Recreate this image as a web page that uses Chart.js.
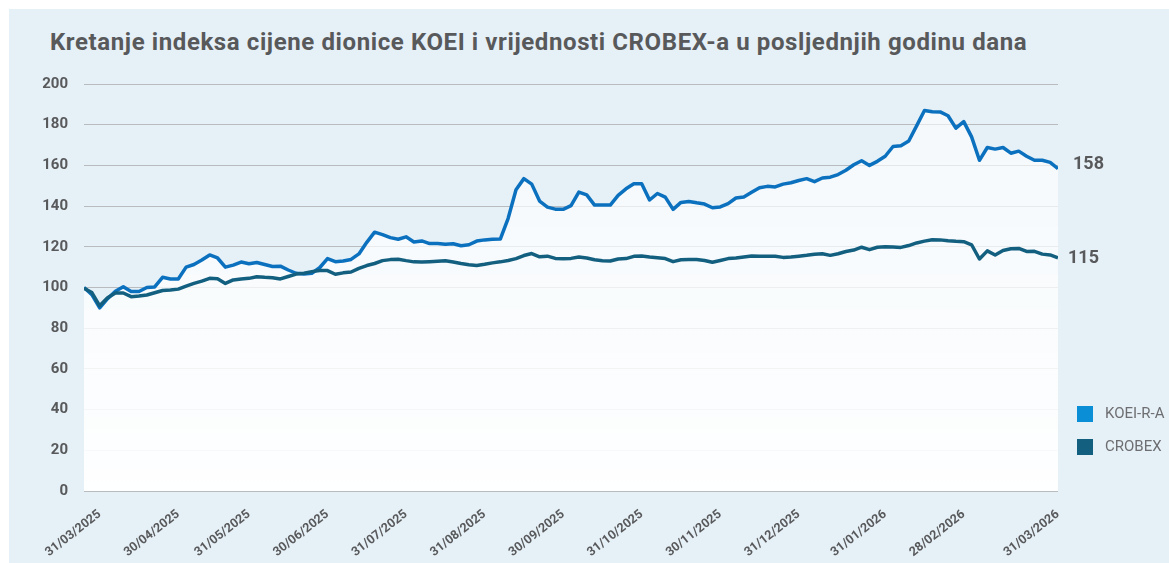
<!DOCTYPE html>
<html>
<head>
<meta charset="utf-8">
<script src="https://cdn.jsdelivr.net/npm/chart.js@4.4.1/dist/chart.umd.min.js"></script>
<style>
    body { margin: 0; background: #ffffff; }
    #panel {
        position: absolute; left: 9px; top: 9px; width: 1160px; height: 554px;
        background: #e6f0f7;
    }
    #title {
        position: absolute; left: 50px; top: 28px; margin: 0;
        font-family: Roboto, sans-serif; font-weight: 700; font-size: 24px;
        letter-spacing: 0.6px; color: #58595b; white-space: nowrap;
    }
    #chart { position: absolute; left: 0; top: 0; }
</style>
</head>
<body>
<div id="panel"></div>
<h1 id="title">Kretanje indeksa cijene dionice KOEI i vrijednosti CROBEX-a u posljednjih godinu dana</h1>
<canvas id="chart" width="1169" height="563"></canvas>
<script>
// Series names
const seriesNames = ['KOEI-R-A', 'CROBEX'];

// Index values, sampled roughly every 3 days from late 03/2025 to 31/03/2026
const koei = [
    100, 96.5, 90, 94.5, 98.2, 100.4, 98, 98, 100, 100.3,
    105, 104.2, 104.2, 110, 111.3, 113.5, 116, 114.5, 110, 111,
    112.5, 111.7, 112.3, 111.3, 110.3, 110.5, 108.6, 107, 106.6, 107,
    109.7, 114.2, 112.7, 113, 113.8, 116.5, 122.2, 127.2, 126, 124.5,
    123.7, 124.9, 122.4, 122.9, 121.6, 121.6, 121.2, 121.5, 120.5, 121,
    122.8, 123.4, 123.7, 123.8, 134, 148, 153.5, 150.8, 142.5, 139.5,
    138.5, 138.4, 140.2, 146.9, 145.5, 140.5, 140.5, 140.5, 145.3, 148.5,
    151, 151, 143, 146.2, 144.4, 138.4, 141.8, 142.3, 141.6, 141,
    139.2, 139.6, 141.2, 144, 144.5, 146.8, 149, 149.7, 149.4, 150.8,
    151.5, 152.6, 153.5, 152, 153.8, 154.2, 155.5, 157.6, 160.3, 162.3,
    160, 162, 164.5, 169.3, 169.7, 172, 179.4, 187, 186.4, 186.3,
    184.4, 178.3, 181.5, 174, 162.5, 168.8, 168, 168.8, 166, 167,
    164.5, 162.5, 162.5, 161.5, 158.4
];
const crobex = [
    99.6, 97.5, 91, 95, 97.3, 97.3, 95.5, 95.8, 96.3, 97.4,
    98.5, 98.8, 99.2, 100.7, 102, 103.1, 104.5, 104.3, 102, 103.7,
    104.2, 104.5, 105.3, 105, 104.8, 104.2, 105.4, 106.6, 107, 107.8,
    108.4, 108.3, 106.5, 107.2, 107.6, 109.4, 110.8, 111.8, 113.2, 113.7,
    113.9, 113.2, 112.6, 112.5, 112.7, 112.9, 113.1, 112.5, 111.8, 111.2,
    110.8, 111.4, 112.1, 112.6, 113.3, 114.2, 115.7, 116.7, 115.1, 115.4,
    114.3, 114.1, 114.3, 115, 114.5, 113.6, 113.2, 113, 114, 114.2,
    115.3, 115.5, 115, 114.6, 114.2, 112.7, 113.6, 113.8, 113.8, 113.3,
    112.4, 113.3, 114.2, 114.5, 115, 115.5, 115.3, 115.3, 115.4, 114.8,
    115, 115.4, 115.8, 116.3, 116.6, 115.8, 116.6, 117.7, 118.4, 119.8,
    118.6, 119.8, 120, 119.9, 119.7, 120.6, 121.9, 122.8, 123.5, 123.4,
    123, 122.7, 122.5, 121, 114, 118, 116, 118.2, 119, 119.2,
    117.7, 117.8, 116.4, 116, 114.6
];

// Month-end tick labels and the sample each one falls on
const tickLabels = [
    '31/03/2025', '30/04/2025', '31/05/2025', '30/06/2025', '31/07/2025', '31/08/2025', '30/09/2025',
    '31/10/2025', '30/11/2025', '31/12/2025', '31/01/2026', '28/02/2026', '31/03/2026'
];
const tickIndex = [2, 12, 21, 31, 41, 51, 61, 71, 81, 91, 102, 112, 124];

const yTicks = { min: 0, max: 200, step: 20 };

// Colors
const koeiLine = '#0b71bf';
const koeiLegend = '#0a8fd6';
const crobexLine = '#135f80';
const textGray = '#58595b';

function fillGradient(context) {
    const chart = context.chart;
    const area = chart.chartArea;
    if (!area) return 'rgba(255,255,255,0.7)';
    const g = chart.ctx.createLinearGradient(0, area.top, 0, area.bottom);
    g.addColorStop(0, 'rgba(255,255,255,0.55)');
    g.addColorStop(1, 'rgba(255,255,255,0.95)');
    return g;
}

// End value labels + legend drawn on the canvas
const extrasPlugin = {
    id: 'extras',
    afterDatasetsDraw(chart) {
        const ctx = chart.ctx;
        ctx.save();
        ctx.fillStyle = textGray;
        ctx.font = '700 18px Roboto, sans-serif';
        ctx.textBaseline = 'middle';
        ctx.textAlign = 'left';
        const dx = [15, 10];
        const dy = [-4, 1];
        chart.data.datasets.forEach((ds, i) => {
            const meta = chart.getDatasetMeta(i);
            const last = meta.data[meta.data.length - 1];
            ctx.fillText(Math.round(ds.data[ds.data.length - 1]), last.x + dx[i], last.y + dy[i]);
        });

        // legend
        const lx = 1077, ly = 406;
        const swatches = [koeiLegend, crobexLine];
        ctx.font = '400 15px Roboto, sans-serif';
        seriesNames.forEach((name, i) => {
            const y = ly + i * 33;
            ctx.fillStyle = swatches[i];
            ctx.fillRect(lx, y, 16, 16);
            ctx.fillStyle = '#6d6e71';
            ctx.fillText(name, lx + 28, y + 8.5);
        });
        ctx.restore();
    }
};

const ctx = document.getElementById('chart').getContext('2d');
const chart = new Chart(ctx, {
    type: 'line',
    data: {
        labels: koei.map((v, i) => i),
        datasets: [
            {
                label: seriesNames[0],
                data: koei,
                borderColor: koeiLine,
                borderWidth: 3.5,
                backgroundColor: fillGradient,
                fill: 'origin',
                pointRadius: 0,
                tension: 0,
                borderJoinStyle: 'round',
                order: 2
            },
            {
                label: seriesNames[1],
                data: crobex,
                borderColor: crobexLine,
                borderWidth: 3.5,
                fill: false,
                pointRadius: 0,
                tension: 0,
                borderJoinStyle: 'round',
                order: 1
            }
        ]
    },
    options: {
        responsive: false,
        animation: false,
        layout: { padding: { left: 0, right: 111, top: 84, bottom: 0 } },
        plugins: {
            legend: { display: false },
            tooltip: { enabled: false },
            filler: { drawTime: 'beforeDatasetsDraw' }
        },
        scales: {
            x: {
                type: 'linear',
                min: 0,
                max: koei.length - 1,
                grid: { display: false },
                border: { display: false },
                afterBuildTicks: (scale) => {
                    scale.ticks = tickIndex.map(v => ({ value: v }));
                },
                afterFit: (scale) => { scale.height = 72; },
                ticks: {
                    autoSkip: false,
                    maxRotation: 38,
                    minRotation: 38,
                    padding: 8,
                    color: textGray,
                    font: { family: 'Roboto', weight: '700', size: 12.5 },
                    callback: (value, index) => tickLabels[index]
                }
            },
            y: {
                min: yTicks.min,
                max: yTicks.max,
                border: { display: false },
                grid: { color: '#b9bcbf', lineWidth: 1, drawTicks: false },
                afterFit: (scale) => { scale.width = 84; },
                ticks: {
                    stepSize: yTicks.step,
                    padding: 16,
                    color: textGray,
                    font: { family: 'Roboto', weight: '700', size: 15 }
                }
            }
        }
    },
    plugins: [extrasPlugin]
});
</script>
</body>
</html>
